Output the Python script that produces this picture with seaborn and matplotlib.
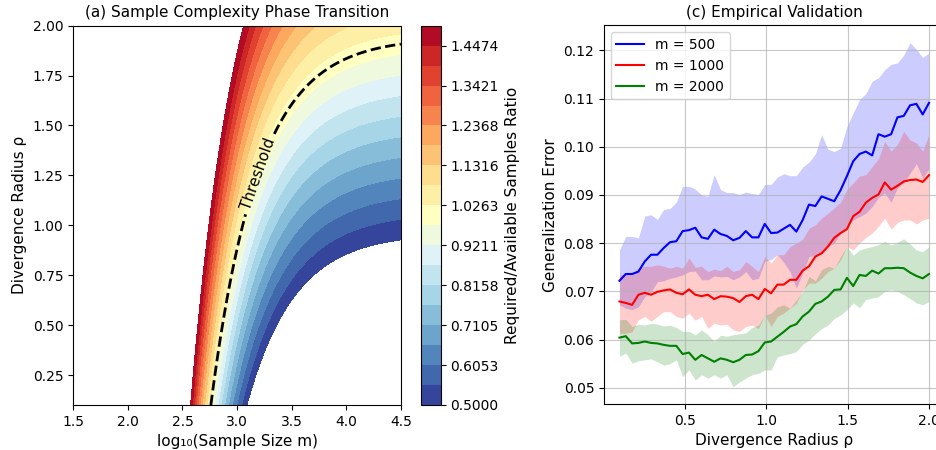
import numpy as np
import matplotlib
matplotlib.use("Agg")
import matplotlib.pyplot as plt
import seaborn as sns

# Panel (a): ratio field = BASE_SAMPLES / m + RHO_SLOPE * rho + RATIO_OFFSET
BASE_SAMPLES = 540.0
RHO_SLOPE = 0.51
RATIO_OFFSET = 0.01
LOG_M_RANGE = (1.5, 4.5)
RHO_RANGE = (0.1, 2.0)
RATIO_LEVELS = np.linspace(0.5, 1.5, 20)

# Panel (c): empirical validation, 50 radii from 0.1 to 2.0
rho_emp = np.linspace(0.1, 2.0, 50)

err_m500 = [0.0722, 0.0736, 0.0736, 0.0741, 0.0762, 0.0776, 0.0776, 0.0790, 0.0802, 0.0804,
            0.0825, 0.0827, 0.0832, 0.0812, 0.0809, 0.0828, 0.0819, 0.0815, 0.0806, 0.0811,
            0.0825, 0.0812, 0.0812, 0.0840, 0.0821, 0.0822, 0.0830, 0.0838, 0.0824, 0.0848,
            0.0880, 0.0877, 0.0897, 0.0892, 0.0887, 0.0910, 0.0939, 0.0970, 0.0985, 0.0990,
            0.0982, 0.1026, 0.1021, 0.1026, 0.1061, 0.1064, 0.1086, 0.1089, 0.1067, 0.1091]
hi_m500 = [0.0786, 0.0814, 0.0814, 0.0811, 0.0856, 0.0859, 0.0849, 0.0870, 0.0872, 0.0885,
           0.0918, 0.0918, 0.0912, 0.0900, 0.0897, 0.0942, 0.0911, 0.0905, 0.0905, 0.0901,
           0.0906, 0.0903, 0.0901, 0.0922, 0.0922, 0.0937, 0.0944, 0.0940, 0.0940, 0.0958,
           0.0968, 0.0985, 0.1025, 0.0995, 0.0990, 0.0997, 0.1042, 0.1070, 0.1098, 0.1110,
           0.1136, 0.1143, 0.1160, 0.1171, 0.1174, 0.1190, 0.1216, 0.1202, 0.1185, 0.1195]
lo_m500 = [0.0672, 0.0665, 0.0662, 0.0668, 0.0689, 0.0699, 0.0720, 0.0722, 0.0727, 0.0730,
           0.0734, 0.0741, 0.0742, 0.0724, 0.0724, 0.0732, 0.0730, 0.0731, 0.0724, 0.0730,
           0.0741, 0.0724, 0.0727, 0.0762, 0.0766, 0.0776, 0.0760, 0.0741, 0.0707, 0.0738,
           0.0772, 0.0775, 0.0779, 0.0793, 0.0800, 0.0821, 0.0835, 0.0848, 0.0855, 0.0862,
           0.0876, 0.0895, 0.0904, 0.0885, 0.0915, 0.0925, 0.0945, 0.0965, 0.0935, 0.0955]

err_m1000 = [0.0679, 0.0676, 0.0672, 0.0693, 0.0697, 0.0693, 0.0699, 0.0702, 0.0704, 0.0697,
             0.0694, 0.0704, 0.0693, 0.0690, 0.0693, 0.0684, 0.0690, 0.0689, 0.0686, 0.0678,
             0.0690, 0.0693, 0.0684, 0.0705, 0.0696, 0.0714, 0.0714, 0.0724, 0.0724, 0.0743,
             0.0752, 0.0772, 0.0779, 0.0793, 0.0811, 0.0821, 0.0829, 0.0856, 0.0865, 0.0884,
             0.0894, 0.0901, 0.0926, 0.0911, 0.0919, 0.0928, 0.0931, 0.0932, 0.0927, 0.0941]
hi_m1000 = [0.0734, 0.0736, 0.0738, 0.0748, 0.0752, 0.0752, 0.0755, 0.0752, 0.0748, 0.0752,
            0.0748, 0.0769, 0.0750, 0.0752, 0.0741, 0.0746, 0.0743, 0.0752, 0.0741, 0.0745,
            0.0762, 0.0752, 0.0741, 0.0772, 0.0759, 0.0776, 0.0776, 0.0793, 0.0800, 0.0808,
            0.0831, 0.0838, 0.0852, 0.0862, 0.0873, 0.0885, 0.0911, 0.0925, 0.0939, 0.0942,
            0.0959, 0.0975, 0.1011, 0.0991, 0.1005, 0.1032, 0.1014, 0.1008, 0.0991, 0.1026]
lo_m1000 = [0.0613, 0.0613, 0.0616, 0.0641, 0.0648, 0.0638, 0.0648, 0.0658, 0.0658, 0.0648,
            0.0644, 0.0655, 0.0640, 0.0648, 0.0623, 0.0634, 0.0630, 0.0632, 0.0620, 0.0617,
            0.0627, 0.0630, 0.0623, 0.0651, 0.0627, 0.0648, 0.0655, 0.0665, 0.0675, 0.0703,
            0.0717, 0.0717, 0.0727, 0.0741, 0.0748, 0.0765, 0.0793, 0.0786, 0.0800, 0.0812,
            0.0821, 0.0835, 0.0852, 0.0829, 0.0843, 0.0848, 0.0848, 0.0840, 0.0848, 0.0852]

err_m2000 = [0.0604, 0.0607, 0.0592, 0.0593, 0.0596, 0.0593, 0.0592, 0.0589, 0.0587, 0.0587,
             0.0570, 0.0573, 0.0558, 0.0568, 0.0561, 0.0554, 0.0561, 0.0558, 0.0553, 0.0558,
             0.0568, 0.0569, 0.0576, 0.0594, 0.0596, 0.0606, 0.0616, 0.0627, 0.0632, 0.0648,
             0.0658, 0.0674, 0.0679, 0.0689, 0.0703, 0.0704, 0.0728, 0.0711, 0.0734, 0.0732,
             0.0743, 0.0737, 0.0748, 0.0748, 0.0749, 0.0748, 0.0739, 0.0732, 0.0727, 0.0736]
hi_m2000 = [0.0641, 0.0642, 0.0627, 0.0632, 0.0630, 0.0634, 0.0632, 0.0628, 0.0630, 0.0625,
            0.0617, 0.0617, 0.0610, 0.0620, 0.0610, 0.0596, 0.0609, 0.0607, 0.0610, 0.0612,
            0.0614, 0.0625, 0.0630, 0.0651, 0.0655, 0.0668, 0.0672, 0.0665, 0.0682, 0.0700,
            0.0731, 0.0722, 0.0745, 0.0752, 0.0748, 0.0772, 0.0793, 0.0775, 0.0786, 0.0790,
            0.0793, 0.0797, 0.0804, 0.0796, 0.0802, 0.0809, 0.0798, 0.0786, 0.0782, 0.0793]
lo_m2000 = [0.0565, 0.0572, 0.0551, 0.0556, 0.0558, 0.0560, 0.0554, 0.0547, 0.0550, 0.0558,
            0.0523, 0.0537, 0.0516, 0.0527, 0.0520, 0.0527, 0.0520, 0.0527, 0.0502, 0.0512,
            0.0520, 0.0527, 0.0530, 0.0537, 0.0537, 0.0564, 0.0568, 0.0571, 0.0575, 0.0590,
            0.0599, 0.0612, 0.0623, 0.0630, 0.0644, 0.0651, 0.0662, 0.0676, 0.0666, 0.0683,
            0.0686, 0.0689, 0.0700, 0.0703, 0.0700, 0.0693, 0.0685, 0.0676, 0.0672, 0.0679]

series = [
    ("m = 500", "blue", err_m500, lo_m500, hi_m500),
    ("m = 1000", "red", err_m1000, lo_m1000, hi_m1000),
    ("m = 2000", "green", err_m2000, lo_m2000, hi_m2000),
]

LABEL_SIZE = 11
TICK_SIZE = 10


def plot_phase_transition(ax, cax):
    """
    Contour map of required/available samples with the threshold line
    """
    log_m = np.linspace(*LOG_M_RANGE, 400)
    rho = np.linspace(*RHO_RANGE, 400)
    X, Y = np.meshgrid(log_m, rho)
    ratio = BASE_SAMPLES / 10 ** X + RHO_SLOPE * Y + RATIO_OFFSET

    cf = ax.contourf(X, Y, ratio, levels=RATIO_LEVELS, cmap="RdYlBu_r")
    cs = ax.contour(X, Y, ratio, levels=[1.0], colors="black",
                    linestyles="--", linewidths=2)
    ax.clabel(cs, inline=True, fmt={1.0: "Threshold"}, fontsize=LABEL_SIZE,
              manual=[(3.19, 1.26)])

    ax.set_xlim(LOG_M_RANGE)
    ax.set_ylim(RHO_RANGE)
    ax.set_title("(a) Sample Complexity Phase Transition", fontsize=LABEL_SIZE)
    ax.set_xlabel("log\u2081\u2080(Sample Size m)", fontsize=LABEL_SIZE)
    ax.set_ylabel("Divergence Radius \u03c1", fontsize=LABEL_SIZE)
    ax.tick_params(labelsize=TICK_SIZE)

    cbar = plt.colorbar(cf, cax=cax)
    cbar.set_label("Required/Available Samples Ratio", fontsize=LABEL_SIZE)
    cbar.ax.tick_params(labelsize=TICK_SIZE)


def plot_empirical(ax):
    """
    Generalization error vs radius with shaded bands
    """
    for label, color, mean, lo, hi in series:
        sns.lineplot(x=rho_emp, y=mean, color=color, label=label,
                     linewidth=1.5, ax=ax)
        ax.fill_between(rho_emp, lo, hi, color=color, alpha=0.2, linewidth=0)

    ax.set_title("(c) Empirical Validation", fontsize=LABEL_SIZE)
    ax.set_xlabel("Divergence Radius \u03c1", fontsize=LABEL_SIZE)
    ax.set_ylabel("Generalization Error", fontsize=LABEL_SIZE)
    ax.tick_params(labelsize=TICK_SIZE)
    ax.grid(True, alpha=0.7)
    ax.legend(loc="upper left", fontsize=TICK_SIZE)


def main():
    fig = plt.figure(figsize=(9.37, 4.5), dpi=100)
    ax1 = fig.add_axes([0.0782, 0.100, 0.3497, 0.843])
    cax = fig.add_axes([0.4493, 0.100, 0.0210, 0.843])
    # the right panel runs slightly past the right edge, as in the reference crop
    ax2 = fig.add_axes([0.6446, 0.1022, 0.3634, 0.8413])

    plot_phase_transition(ax1, cax)
    plot_empirical(ax2)

    fig.savefig("out.png", dpi=100)
    plt.close(fig)


if __name__ == "__main__":
    main()
